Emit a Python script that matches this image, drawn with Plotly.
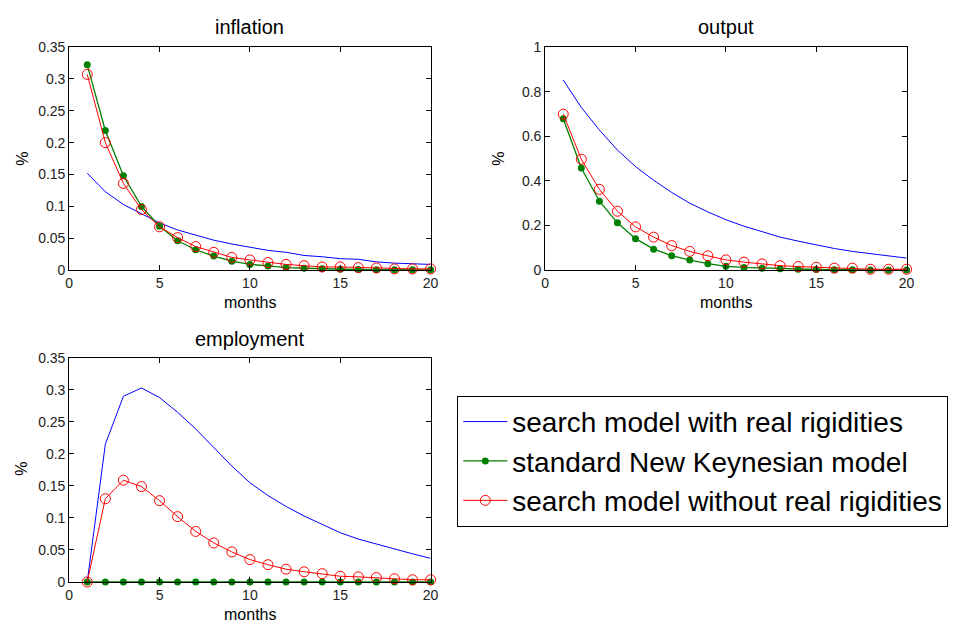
import plotly.graph_objects as go

months = list(range(1, 21))

# inflation
infl_search_rr = [0.152, 0.123, 0.103, 0.088, 0.074, 0.063, 0.055, 0.047, 0.041, 0.036,
                  0.031, 0.028, 0.023, 0.021, 0.018, 0.017, 0.013, 0.011, 0.010, 0.009]
infl_nk = [0.322, 0.219, 0.148, 0.100, 0.069, 0.046, 0.032, 0.022, 0.014, 0.009,
           0.0066, 0.004, 0.003, 0.002, 0.0015, 0.001, 0.0008, 0.0006, 0.0005, 0.0005]
infl_search_norr = [0.307, 0.200, 0.136, 0.095, 0.068, 0.051, 0.037, 0.028, 0.020, 0.016,
                    0.012, 0.009, 0.007, 0.005, 0.005, 0.004, 0.0035, 0.002, 0.002, 0.002]

# output
out_search_rr = [0.852, 0.729, 0.628, 0.538, 0.464, 0.403, 0.348, 0.300, 0.261, 0.226,
                 0.197, 0.171, 0.148, 0.130, 0.112, 0.097, 0.084, 0.075, 0.065, 0.054]
out_nk = [0.678, 0.458, 0.309, 0.212, 0.141, 0.094, 0.065, 0.045, 0.029, 0.017,
          0.012, 0.009, 0.006, 0.004, 0.003, 0.002, 0.0015, 0.001, 0.001, 0.001]
out_search_norr = [0.699, 0.497, 0.362, 0.264, 0.194, 0.148, 0.110, 0.084, 0.064, 0.046,
                   0.036, 0.028, 0.020, 0.016, 0.013, 0.009, 0.009, 0.004, 0.004, 0.004]

# employment
emp_search_rr = [0.0, 0.215, 0.290, 0.303, 0.288, 0.265, 0.239, 0.210, 0.181, 0.155,
                 0.135, 0.118, 0.103, 0.090, 0.077, 0.067, 0.059, 0.051, 0.044, 0.037]
emp_nk = [0.0] * 20
emp_search_norr = [0.0, 0.130, 0.159, 0.149, 0.127, 0.102, 0.079, 0.061, 0.047, 0.035,
                   0.027, 0.020, 0.016, 0.013, 0.009, 0.008, 0.007, 0.005, 0.0035, 0.0035]

series_names = ["search model with real rigidities",
                "standard New Keynesian model",
                "search model without real rigidities"]
panel_titles = ["inflation", "output", "employment"]
x_ticks = [0, 5, 10, 15, 20]
y_ticks_small = [0, 0.05, 0.1, 0.15, 0.2, 0.25, 0.3, 0.35]
y_ticks_small_text = ["0", "0.05", "0.1", "0.15", "0.2", "0.25", "0.3", "0.35"]
y_ticks_out = [0, 0.2, 0.4, 0.6, 0.8, 1]
y_ticks_out_text = ["0", "0.2", "0.4", "0.6", "0.8", "1"]

FONT = "Liberation Sans, Arial, sans-serif"
BLUE, GREEN, RED = "#0000ff", "#008000", "#ff0000"

fig = go.Figure()

panels = [
    ("x", "y", infl_search_rr, infl_nk, infl_search_norr),
    ("x2", "y2", out_search_rr, out_nk, out_search_norr),
    ("x3", "y3", emp_search_rr, emp_nk, emp_search_norr),
]
for i, (xa, ya, s_rr, nk, s_norr) in enumerate(panels):
    show = (i == 0)
    fig.add_trace(go.Scatter(x=months, y=s_rr, mode="lines", xaxis=xa, yaxis=ya,
                             line=dict(color=BLUE, width=1), name=series_names[0],
                             legendgroup="a", showlegend=show, cliponaxis=False))
    fig.add_trace(go.Scatter(x=months, y=nk, mode="lines+markers", xaxis=xa, yaxis=ya,
                             line=dict(color=GREEN, width=1.3),
                             marker=dict(color=GREEN, size=7, symbol="circle"),
                             name=series_names[1], legendgroup="b", showlegend=show,
                             cliponaxis=False))
    fig.add_trace(go.Scatter(x=months, y=s_norr, mode="lines+markers", xaxis=xa, yaxis=ya,
                             line=dict(color=RED, width=1),
                             marker=dict(color=RED, size=10, symbol="circle-open",
                                         line=dict(width=1, color=RED)),
                             name=series_names[2], legendgroup="c", showlegend=show,
                             cliponaxis=False))

W, H = 964, 628


def px_x(p):
    return p / W


def px_y(p):
    return 1 - p / H


axis_common = dict(showline=True, linecolor="black", linewidth=1, mirror="ticks",
                   ticks="inside", ticklen=5, tickcolor="black", showgrid=False,
                   zeroline=False, tickfont=dict(family=FONT, size=14, color="#222"))

xdom1 = [px_x(66), px_x(432)]
xdom2 = [px_x(548), px_x(914)]
ydom_top = [px_y(269), px_y(40)]
ydom_bot = [px_y(589), px_y(359)]

fig.update_layout(
    width=W, height=H, autosize=False,
    margin=dict(l=0, r=0, t=0, b=0),
    paper_bgcolor="white", plot_bgcolor="white",
    font=dict(family=FONT, color="black"),
    xaxis=dict(domain=xdom1, anchor="y", range=[0, 20], tickvals=x_ticks, **axis_common),
    yaxis=dict(domain=ydom_top, anchor="x", range=[0, 0.35], tickvals=y_ticks_small,
               ticktext=y_ticks_small_text, **axis_common),
    xaxis2=dict(domain=xdom2, anchor="y2", range=[0, 20], tickvals=x_ticks, **axis_common),
    yaxis2=dict(domain=ydom_top, anchor="x2", range=[0, 1], tickvals=y_ticks_out,
                ticktext=y_ticks_out_text, **axis_common),
    xaxis3=dict(domain=xdom1, anchor="y3", range=[0, 20], tickvals=x_ticks, **axis_common),
    yaxis3=dict(domain=ydom_bot, anchor="x3", range=[0, 0.35], tickvals=y_ticks_small,
                ticktext=y_ticks_small_text, **axis_common),
    legend=dict(x=px_x(459), y=px_y(398), xanchor="left", yanchor="top",
                bordercolor="black", borderwidth=1, bgcolor="white",
                font=dict(family=FONT, size=28, color="black"),
                tracegroupgap=0, itemwidth=44),
    showlegend=True,
)

annotations = []
centers = [(249, 20, 302, 18, 155), (731, 20, 302, 500, 155), (249, 340, 622, 18, 473)]
for title, (cx, ty, my, px_, py) in zip(panel_titles, centers):
    annotations.append(dict(text=title, x=px_x(cx), y=px_y(ty), xref="paper", yref="paper",
                            showarrow=False, xanchor="center", yanchor="middle",
                            font=dict(family=FONT, size=20, color="black")))
    annotations.append(dict(text="months", x=px_x(cx), y=px_y(my), xref="paper", yref="paper",
                            showarrow=False, xanchor="center", yanchor="middle",
                            font=dict(family=FONT, size=16, color="black")))
    annotations.append(dict(text="%", x=px_x(px_), y=px_y(py), xref="paper", yref="paper",
                            showarrow=False, xanchor="center", yanchor="middle", textangle=-90,
                            font=dict(family=FONT, size=16, color="black")))
fig.update_layout(annotations=annotations)

fig.write_html("out.html")
